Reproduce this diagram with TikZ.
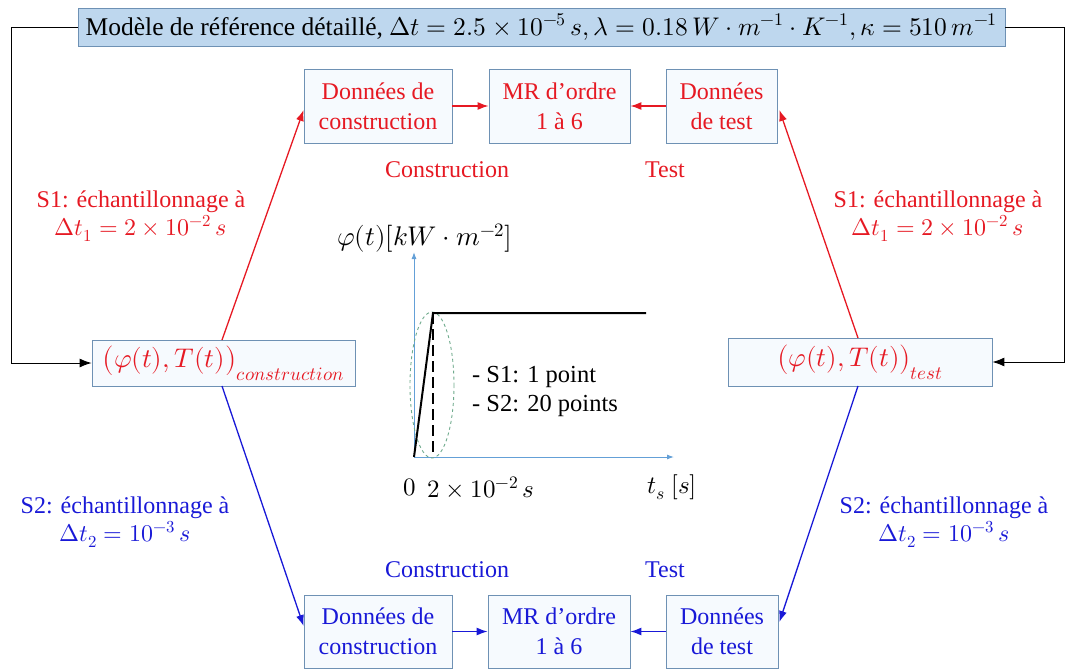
\documentclass[tikz,border=0pt]{standalone}
\usepackage{fontspec}
\usepackage{unicode-math}
\setmainfont{Liberation Serif}
\setmathfont{Latin Modern Math}
\usetikzlibrary{arrows.meta,calc}
\definecolor{rd}{RGB}{230,25,35}
\definecolor{bl}{RGB}{25,25,215}
\definecolor{bx}{RGB}{110,145,180}
\definecolor{topfill}{RGB}{190,215,238}
\definecolor{boxfill}{RGB}{246,250,254}
\definecolor{ax}{RGB}{100,160,215}
\definecolor{ell}{RGB}{110,170,140}
\tikzset{
  box/.style={draw=bx, line width=0.8pt, fill=boxfill, inner sep=0pt, align=center,
    font=\fontsize{24}{30}\selectfont},
  lbl/.style={inner sep=0pt, align=center, font=\fontsize{24}{28}\selectfont},
  rarr/.style={draw=rd, line width=1.3pt, -{Latex[length=11pt,width=8pt]}},
  barr/.style={draw=bl, line width=1.3pt, -{Latex[length=11pt,width=8pt]}},
  karr/.style={draw=black, line width=0.9pt, -{Latex[length=12pt,width=9pt]}},
  axis/.style={draw=ax, line width=1pt, -{Latex[length=7pt,width=5pt]}},
}
\begin{document}
\begin{tikzpicture}[x=1pt,y=-1pt]
\useasboundingbox (0,0) rectangle (1067,671);
% top box
\node[box, fill=topfill, minimum width=927pt, minimum height=38pt, font=\fontsize{25.5}{27}\selectfont]
  (top) at (541.5,27) {Modèle de référence détaillé, $\Delta t = 2.5\times 10^{-5}\,s, \lambda = 0.18\,W\cdot m^{-1}\cdot K^{-1}, \kappa = 510\,m^{-1}$};
% top row (red)
\node[box, text=rd, minimum width=148pt, minimum height=74pt] (dc1) at (378,106) {Données de\\construction};
\node[box, text=rd, minimum width=141pt, minimum height=74pt] (mr1) at (559.5,106) {MR d’ordre\\1 à 6};
\node[box, text=rd, minimum width=111pt, minimum height=74pt] (dt1) at (721.5,106) {Données\\de test};
\node[lbl, text=rd] (c1) at (447,170) {Construction};
\node[lbl, text=rd] (t1) at (665,170) {Test};
% bottom row (blue)
\node[box, text=bl, minimum width=148pt, minimum height=73pt] (dc2) at (378,631.5) {Données de\\construction};
\node[box, text=bl, minimum width=142pt, minimum height=73pt] (mr2) at (559,631.5) {MR d’ordre\\1 à 6};
\node[box, text=bl, minimum width=112pt, minimum height=73pt] (dt2) at (722,631.5) {Données\\de test};
\node[lbl, text=bl] (c2) at (447,570) {Construction};
\node[lbl, text=bl] (t2) at (665,570) {Test};
% data boxes
\node[box, text=rd, minimum width=263pt, minimum height=46pt, font=\fontsize{27}{30}\selectfont] (dcon) at (223.5,363)
  {$\bigl(\varphi(t),T(t)\bigr)_{construction}$};
\node[box, text=rd, minimum width=264pt, minimum height=48pt, font=\fontsize{27}{30}\selectfont] (dtes) at (860,362)
  {$\bigl(\varphi(t),T(t)\bigr)_{test}$};
% side labels
\node[lbl, text=rd] (s1l) at (141,216) {S1: échantillonnage à\\$\Delta t_1 = 2\times 10^{-2}\,s$};
\node[lbl, text=rd] (s1r) at (938,216) {S1: échantillonnage à\\$\Delta t_1 = 2\times 10^{-2}\,s$};
\node[lbl, text=bl] (s2l) at (125,522) {S2: échantillonnage à\\$\Delta t_2 = 10^{-3}\,s$};
\node[lbl, text=bl] (s2r) at (944,522) {S2: échantillonnage à\\$\Delta t_2 = 10^{-3}\,s$};
% feedback lines
\coordinate (lc1) at (11,27);
\coordinate (lc2) at (11,363);
\coordinate (rc1) at (1064,27);
\coordinate (rc2) at (1064,362);
\draw[karr] (top.west |- lc1) -- (lc1) -- (lc2) -- (dcon.west);
\draw[karr] (top.east |- rc1) -- (rc1) -- (rc2) -- (dtes.east);
% red arrows
\coordinate (a1) at (222,340);
\coordinate (a2) at (858,338);
\draw[rarr] (a1) -- (dc1.west |- 0,110);
\draw[rarr] (a2) -- ($(dt1.east |- 0,110)+(2,0)$);
\draw[rarr] (dc1.east) -- (mr1.west);
\draw[rarr] (dt1.west) -- (mr1.east);
% blue arrows
\coordinate (b1) at (222,386);
\coordinate (b2) at (858,386);
\draw[barr] (b1) -- (dc2.west |- 0,626);
\draw[barr] (b2) -- ($(dt2.east |- 0,622)+(1,0)$);
\draw[barr] (dc2.east) -- (mr2.west);
\draw[barr] (dt2.west) -- (mr2.east);
% graph
\coordinate (o) at (414,457);
\coordinate (ytop) at (414,252);
\coordinate (xend) at (674,457);
\coordinate (pk) at (433,313);
\coordinate (pe) at (646,313);
\coordinate (pb) at (433,457);
\draw[axis] (o) -- (ytop);
\draw[axis] (o) -- (xend);
\draw[ell, dashed, line width=0.9pt] (432,385) ellipse [x radius=22, y radius=73];
\draw[black, line width=2pt] (o) -- (pk) -- (pe);
\draw[black, line width=2pt, dash pattern=on 11pt off 5pt] (pk) -- (pb);
\node[lbl, anchor=west, font=\fontsize{27}{28}\selectfont] (phi) at (337,238) {$\varphi(t)[kW\cdot m^{-2}]$};
\node[lbl, anchor=west, font=\fontsize{24.5}{29}\selectfont, align=left] (pts) at (472,391) {- S1: 1 point\\- S2: 20 points};
\node[lbl, font=\fontsize{25}{26}\selectfont] (zero) at (410,487) {$0$};
\node[lbl, font=\fontsize{25}{26}\selectfont] (tick) at (481,487) {$2\times 10^{-2}\,s$};
\node[lbl, font=\fontsize{25}{26}\selectfont] (ts) at (672,487) {$t_s\ [s]$};
\end{tikzpicture}
\end{document}
